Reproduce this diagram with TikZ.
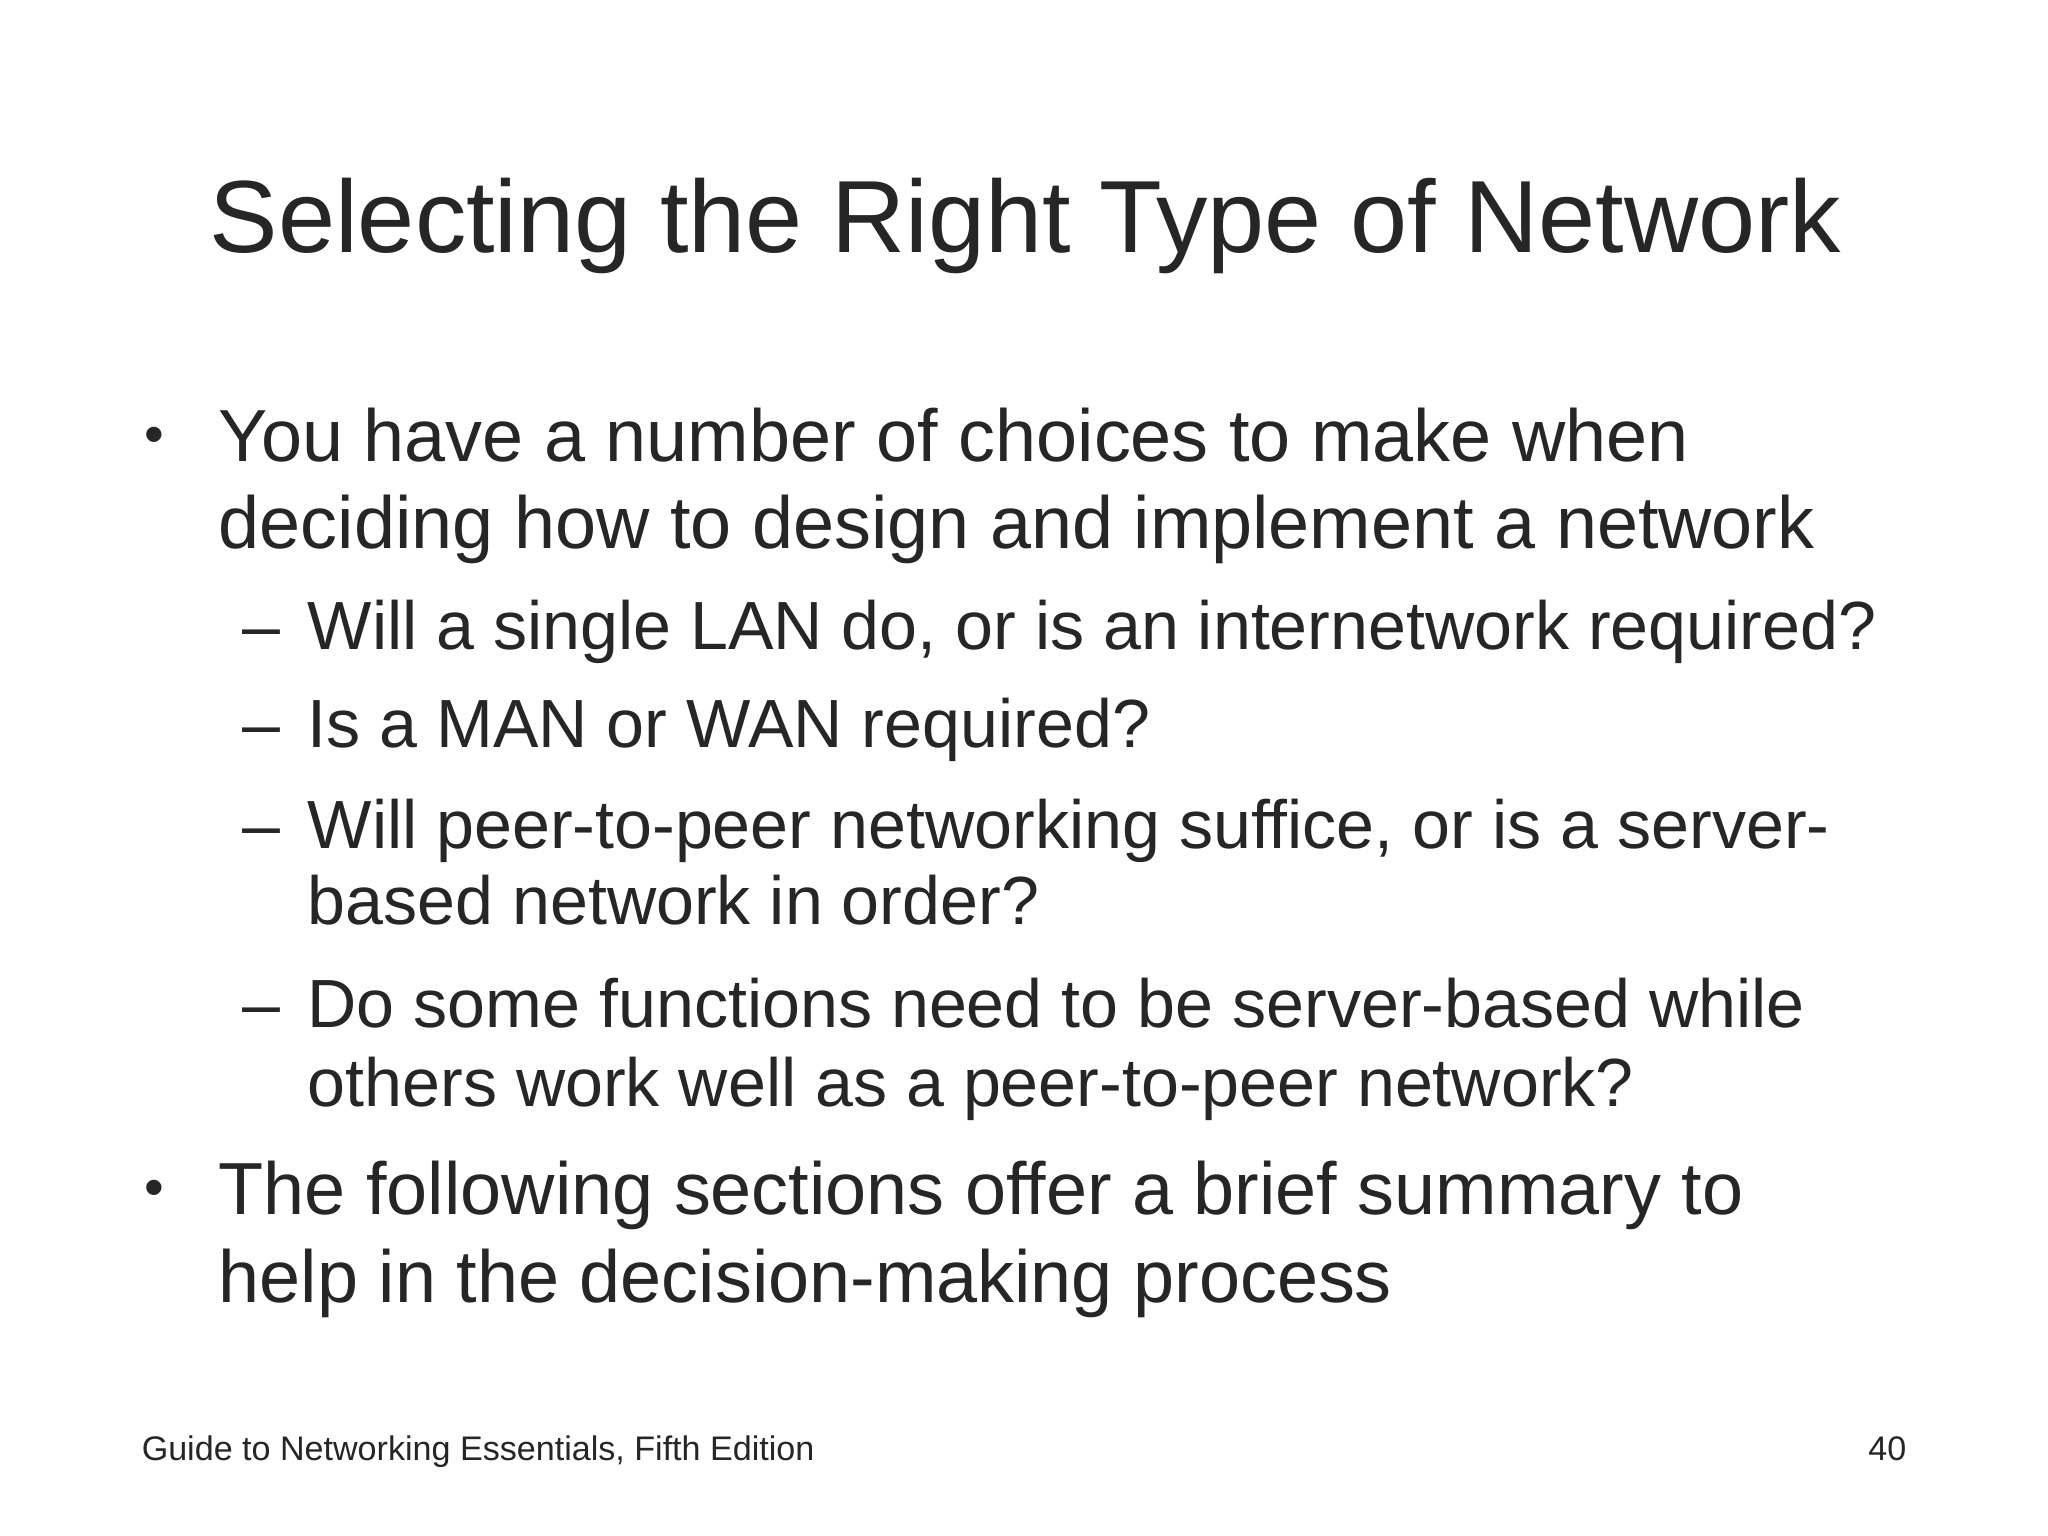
\documentclass[tikz,border=0pt]{standalone}
\usepackage{fontspec}
\setmainfont{Liberation Sans}
\definecolor{txt}{HTML}{262626}
\begin{document}
\begin{tikzpicture}[x=0.01306cm,y=-0.01306cm,
  tl/.style={anchor=base west,inner sep=0pt,text=txt,font=\fontsize{29.2}{30}\selectfont},
  bl/.style={anchor=base west,inner sep=0pt,text=txt,font=\fontsize{21}{22}\selectfont},
  dl/.style={anchor=base west,inner sep=0pt,text=txt,font=\fontsize{16}{17}\selectfont},
  sl/.style={anchor=base west,inner sep=0pt,text=txt,font=\fontsize{19.4}{20}\selectfont},
  fl/.style={inner sep=0pt,text=txt,font=\fontsize{9.7}{10}\selectfont}]
\useasboundingbox (0,0) rectangle (1568,1176);
\fill[white] (0,0) rectangle (1568,1176);
\node[tl] (title) at (160,193) {Selecting the Right Type of Network};
\node[dl] (d1) at (110,347) {•};
\node[bl] (b1a) at (167,353) {You have a number of choices to make when};
\node[bl] (b1b) at (167,420) {deciding how to design and implement a network};
\node[sl] (s1d) at (185,497) {–};
\node[sl] (s1) at (235,497) {Will a single LAN do, or is an internetwork required?};
\node[sl] (s2d) at (185,572) {–};
\node[sl] (s2) at (235,572) {Is a MAN or WAN required?};
\node[sl] (s3d) at (185,650) {–};
\node[sl] (s3a) at (235,650) {Will peer-to-peer networking suffice, or is a server-};
\node[sl] (s3b) at (235,708) {based network in order?};
\node[sl] (s4d) at (185,787) {–};
\node[sl] (s4a) at (235,787) {Do some functions need to be server-based while};
\node[sl] (s4b) at (235,847) {others work well as a peer-to-peer network?};
\node[dl] (d2) at (110,924) {•};
\node[bl] (b2a) at (167,930) {The following sections offer a brief summary to};
\node[bl] (b2b) at (167,997) {help in the decision-making process};
\node[fl,anchor=base west] (foot) at (108,1118) {Guide to Networking Essentials, Fifth Edition};
\node[fl,anchor=base east] (pg) at (1460,1118) {40};
\end{tikzpicture}
\end{document}
